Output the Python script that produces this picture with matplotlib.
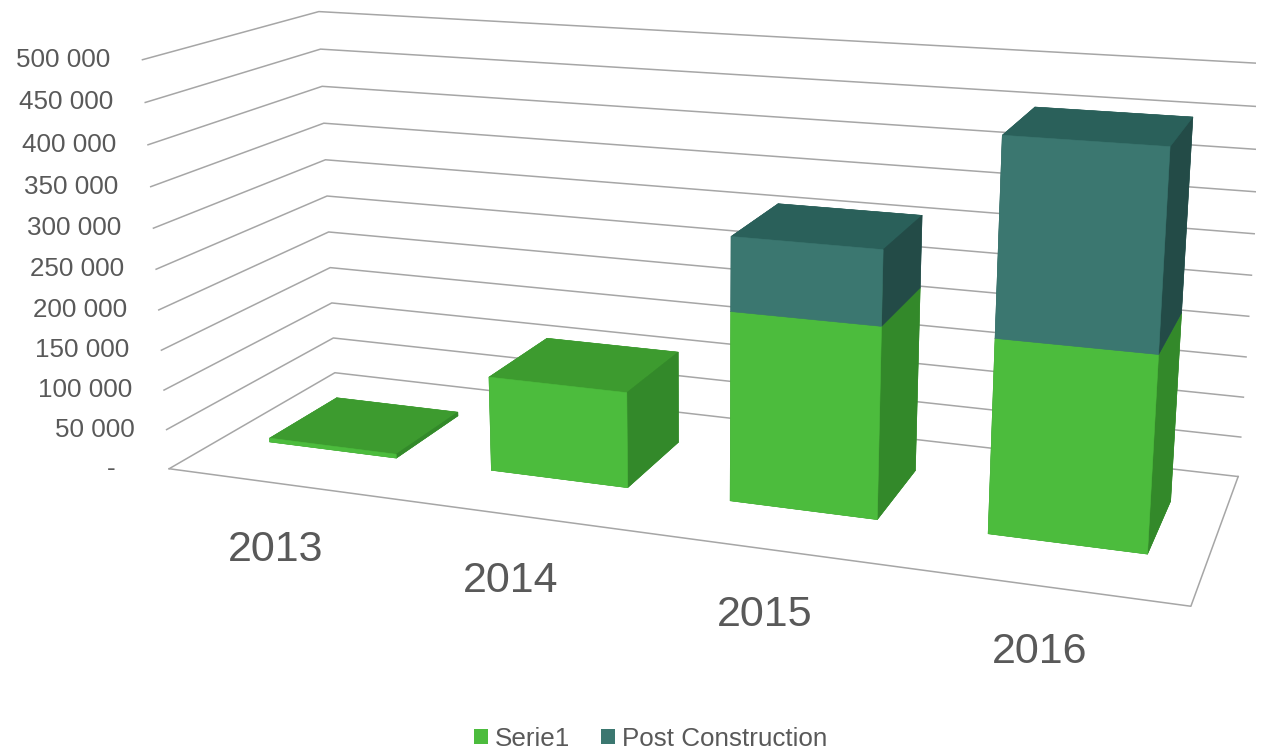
import matplotlib
matplotlib.use('Agg')
import matplotlib.pyplot as plt
import matplotlib.transforms as mtransforms
from matplotlib.patches import Patch
from mpl_toolkits.mplot3d import proj3d

# data
years = ['2013', '2014', '2015', '2016']
serie1 = [5000, 118000, 229000, 228000]
post_construction = [0, 0, 88000, 226000]
zticks = [0, 50000, 100000, 150000, 200000, 250000, 300000, 350000, 400000, 450000, 500000]

plt.rcParams['font.family'] = ['Liberation Sans', 'DejaVu Sans']

grey = '#595959'
line_grey = '#a6a6a6'
# face order used by bar3d: bottom, top, front, back, left, right
green_faces = ['#3a9a2d', '#3d9b2f', '#4cbc3d', '#3a9a2d', '#3a9a2d', '#33892a']
teal_faces = ['#2a5f59', '#2a605a', '#3b7770', '#2a5f59', '#2a5f59', '#234b47']

fig = plt.figure(figsize=(12.61, 7.5), dpi=100)
ax = fig.add_axes([0.0912, -0.144, 0.905, 1.521], projection='3d', computed_zorder=False)
ax.set_proj_type('persp', focal_length=0.36)
ax.view_init(elev=14.9, azim=-70.2)
ax.set_box_aspect((4, 1.345, 1.637))
ax.set_axis_off()

ncat = len(years)
# walls: gridlines on the left wall (x=0) and back wall (y=1), then the floor outline
for v in zticks:
    ax.plot([0, 0, ncat], [0, 1, 1], [v, v, v], color=line_grey, lw=1.1, zorder=1)
ax.plot([0, ncat, ncat], [0, 0, 1], [0, 0, 0], color=line_grey, lw=1.1, zorder=1)

bar_w, y0, y1 = 0.58, 0.31, 0.73
xs, zs, dzs, cols = [], [], [], []
for i in range(ncat):
    xs.append(i + 0.5 - bar_w / 2); zs.append(0); dzs.append(serie1[i]); cols += green_faces
    if post_construction[i] > 0:
        xs.append(i + 0.5 - bar_w / 2); zs.append(serie1[i]); dzs.append(post_construction[i]); cols += teal_faces
n = len(xs)
ax.bar3d(xs, [y0] * n, zs, [bar_w] * n, [y1 - y0] * n, dzs,
         color=cols, edgecolor=cols, linewidth=0.4, shade=False, zorder=2)

ax.set_xlim(0, ncat)
ax.set_ylim(0, 1)
ax.set_zlim(0, zticks[-1])
ax.set_xticks([])
ax.set_yticks([])
ax.set_zticks([])

# project label anchor points once, then place plain 2D texts there
M = ax.get_proj()

# value labels on the left wall
lab_tr = mtransforms.offset_copy(ax.transData, fig=fig, x=-32, y=0, units='dots')
px, py, _ = proj3d.proj_transform([0] * len(zticks), [0] * len(zticks), zticks, M)
for v, x2, y2 in zip(zticks, px, py):
    s = '{:,}'.format(v).replace(',', ' ') if v else '-   '
    ax.text2D(x2, y2, s, transform=lab_tr, ha='right', va='center',
              fontsize=18.7, color=grey, zorder=3)

# category labels under the floor
yr_tr = mtransforms.offset_copy(ax.transData, fig=fig, x=-4, y=-66, units='dots')
px, py, _ = proj3d.proj_transform([i + 0.5 for i in range(ncat)], [0] * ncat, [0] * ncat, M)
for yr, x2, y2 in zip(years, px, py):
    ax.text2D(x2, y2, yr, transform=yr_tr, ha='center', va='center',
              fontsize=31, color=grey, zorder=3)

handles = [Patch(facecolor=green_faces[2]), Patch(facecolor=teal_faces[2])]
fig.legend(handles, ['Serie1', 'Post Construction'], loc='center',
           bbox_to_anchor=(0.516, 0.015), ncol=2, frameon=False, fontsize=18.7,
           handlelength=0.55, handleheight=0.55, handletextpad=0.25,
           columnspacing=1.2, labelcolor=grey)

fig.savefig('out.png', dpi=100)
